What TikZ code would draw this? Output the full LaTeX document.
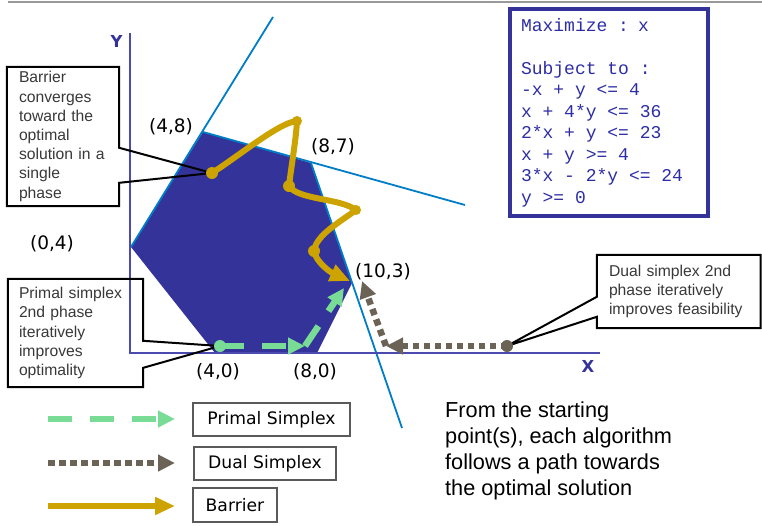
\documentclass[tikz,border=0pt]{standalone}
\usepackage{fontspec}
\setmainfont{Liberation Sans}
\setmonofont{Liberation Mono}
\newfontfamily\verdfont{DejaVu Sans}
\usetikzlibrary{arrows.meta}
\definecolor{regionBlue}{RGB}{51,51,153}
\definecolor{modelText}{RGB}{45,45,165}
\definecolor{limitBlue}{RGB}{0,125,200}
\definecolor{axisBlue}{RGB}{75,75,175}
\definecolor{barrierGold}{RGB}{204,163,0}
\definecolor{primalGreen}{RGB}{120,220,150}
\definecolor{dualBrown}{RGB}{107,99,86}
\definecolor{keyGray}{RGB}{90,90,90}

\tikzset{
  vlabel/.style={font=\verdfont\fontsize{18.5pt}{22pt}\selectfont, inner sep=0pt},
  axlabel/.style={font=\verdfont\bfseries\fontsize{16.5pt}{20pt}\selectfont, text=regionBlue, inner sep=0pt},
  note/.style={font=\fontsize{15.7pt}{19.2pt}\selectfont, text=black!78, align=left, inner xsep=12pt, inner ysep=0pt},
  noteline/.style={draw=black, line width=2pt},
  keybox/.style={draw=keyGray, line width=1.8pt, font=\verdfont\fontsize{17.2pt}{20pt}\selectfont, minimum height=33pt, inner sep=0pt},
  dot/.style={circle, fill, inner sep=0pt, minimum size=12pt},
  limit/.style={draw=limitBlue, line width=1.8pt},
  axis/.style={draw=axisBlue, line width=2pt},
  primal/.style={draw=primalGreen, line width=6.5pt, dash pattern=on 24pt off 18pt, -{Triangle[length=17pt,width=16pt]}},
  dual/.style={draw=dualBrown, line width=6.5pt, dash pattern=on 6.5pt off 4.5pt, -{Triangle[length=17pt,width=16pt]}},
  barrier/.style={draw=barrierGold, line width=6pt, line join=round, -{Triangle[length=20pt,width=17pt]}}
}

\begin{document}
\begin{tikzpicture}[x=1pt, y=-1pt]
  \useasboundingbox (0,0) rectangle (762,525);
  \draw[line width=2pt, black!40] (8,2) -- (762,2);

  % Feasible region
  \coordinate (v04) at (131,247);
  \coordinate (v48) at (203,132);
  \coordinate (v87) at (311,163);
  \coordinate (v103) at (352,283);
  \coordinate (v80) at (317,353);
  \coordinate (v40) at (215,353);
  \fill[regionBlue] (v04) -- (v48) -- (v87) -- (v103) -- (v80) -- (v40) -- cycle;

  % Constraint lines
  \coordinate (c1) at (273,17);
  \coordinate (c2) at (465,205);
  \coordinate (c3) at (402,428);
  \draw[limit] (v04) -- (c1);
  \draw[limit] (v48) -- (c2);
  \draw[limit] (v87) -- (c3);

  % Axes
  \coordinate (yTop) at (130,33);
  \coordinate (origin) at (130,353);
  \coordinate (xEnd) at (600,353);
  \draw[axis] (yTop) -- (origin) -- (xEnd);
  \node[axlabel] (yName) at (116.5,41) {Y};
  \node[axlabel] (xName) at (588,366) {X};

  % Vertices
  \node[vlabel] (l48) at (171,127) {(4,8)};
  \node[vlabel] (l87) at (333,147) {(8,7)};
  \node[vlabel] (l04) at (52,244) {(0,4)};
  \node[vlabel] (l103) at (383,272) {(10,3)};
  \node[vlabel] (l40) at (218,372) {(4,0)};
  \node[vlabel] (l80) at (315,372) {(8,0)};

  % Path points
  \coordinate (b0) at (212,173);
  \coordinate (b1) at (297,121);
  \coordinate (b2) at (289,186);
  \coordinate (b3) at (356,210);
  \coordinate (b4) at (314,251);
  \coordinate (bOpt) at (350,281);
  \coordinate (p0) at (220,346);
  \coordinate (p1) at (305,346);
  \coordinate (p2) at (344,288);
  \coordinate (d0) at (507,346);
  \coordinate (d1) at (386,346);
  \coordinate (d2) at (362,281);

  % Callouts
  \node[note, text width=88pt, minimum width=112pt, minimum height=139pt] (barrierNote) at (63,136.5)
    {Barrier\\converges\\toward the\\optimal\\solution in a\\single\\phase};
  \draw[noteline] ([yshift=-81pt]barrierNote.north east) -- (barrierNote.north east) -- (barrierNote.north west)
    -- (barrierNote.south west) -- (barrierNote.south east) -- ([yshift=-116pt]barrierNote.north east) -- (b0) -- cycle;

  \node[note, inner xsep=11pt, text width=113pt, minimum width=135pt, minimum height=108pt] (primalNote) at (75.5,333)
    {Primal simplex\\2nd phase\\iteratively\\improves\\optimality};
  \draw[noteline] ([yshift=-62pt]primalNote.north east) -- (primalNote.north east) -- (primalNote.north west)
    -- (primalNote.south west) -- (primalNote.south east) -- ([yshift=-89pt]primalNote.north east) -- (p0) -- cycle;

  \node[note, text width=139.5pt, minimum width=163.5pt, minimum height=73pt] (dualNote) at (678.75,291.5)
    {Dual simplex 2nd\\phase iteratively\\improves feasibility};
  \draw[noteline] ([yshift=-42pt]dualNote.north west) -- (dualNote.north west) -- (dualNote.north east)
    -- (dualNote.south east) -- (dualNote.south west) -- ([yshift=-62pt]dualNote.north west) -- (d0) -- cycle;

  % Algorithm paths
  \draw[barrier] (b0) .. controls (240,155) and (280,122) .. (b1)
    .. controls (296,140) and (291,168) .. (b2)
    .. controls (298,200) and (340,198) .. (b3)
    .. controls (340,222) and (316,235) .. (b4)
    .. controls (316,262) and (330,272) .. (bOpt);
  \draw[primal] (p0) -- (p1);
  \draw[primal] (p1) -- (p2);
  \draw[dual] (d0) -- (d1);
  \draw[dual] (d1) -- (d2);

  \node[dot, barrierGold] (bDot0) at (b0) {};
  \node[dot, barrierGold, minimum size=10pt] (bDot1) at (b1) {};
  \node[dot, barrierGold] (bDot2) at (b2) {};
  \node[dot, barrierGold, minimum size=10pt] (bDot3) at (b3) {};
  \node[dot, barrierGold] (bDot4) at (b4) {};
  \node[dot, primalGreen] (pDot) at (p0) {};
  \node[dot, dualBrown] (dDot) at (d0) {};

  % Model
  \node[draw=regionBlue, line width=4pt, minimum width=198pt, minimum height=207pt, text width=176pt,
    align=left, inner sep=0pt, text=modelText, font=\ttfamily\fontsize{18pt}{21.5pt}\selectfont] (model) at (609,112.5)
    {\spaceskip=10.8pt\relax Maximize : x\\[21.5pt]Subject to :\\-x + y <= 4\\x + 4*y <= 36\\2*x + y <= 23\\x + y >= 4\\3*x - 2*y <= 24\\y >= 0};

  % Legend
  \coordinate (kp0) at (48,419);
  \coordinate (kp1) at (175,419);
  \coordinate (kd0) at (48,463);
  \coordinate (kd1) at (175,463);
  \coordinate (kb0) at (48,506);
  \coordinate (kb1) at (175,506);
  \draw[primal] (kp0) -- (kp1);
  \draw[dual] (kd0) -- (kd1);
  \draw[barrier] (kb0) -- (kb1);
  \node[keybox, minimum width=157pt] (primalKey) at (271.5,419.5) {Primal Simplex};
  \node[keybox, minimum width=142pt] (dualKey) at (265,463.5) {Dual Simplex};
  \node[keybox, minimum width=84pt, minimum height=34pt] (barrierKey) at (235,505) {Barrier};

  \node[anchor=north west, inner sep=0pt, align=left, font=\fontsize{21.7pt}{26pt}\selectfont] (summary) at (445,402)
    {From the starting\\point(s), each algorithm\\follows a path towards\\the optimal solution};
\end{tikzpicture}
\end{document}
